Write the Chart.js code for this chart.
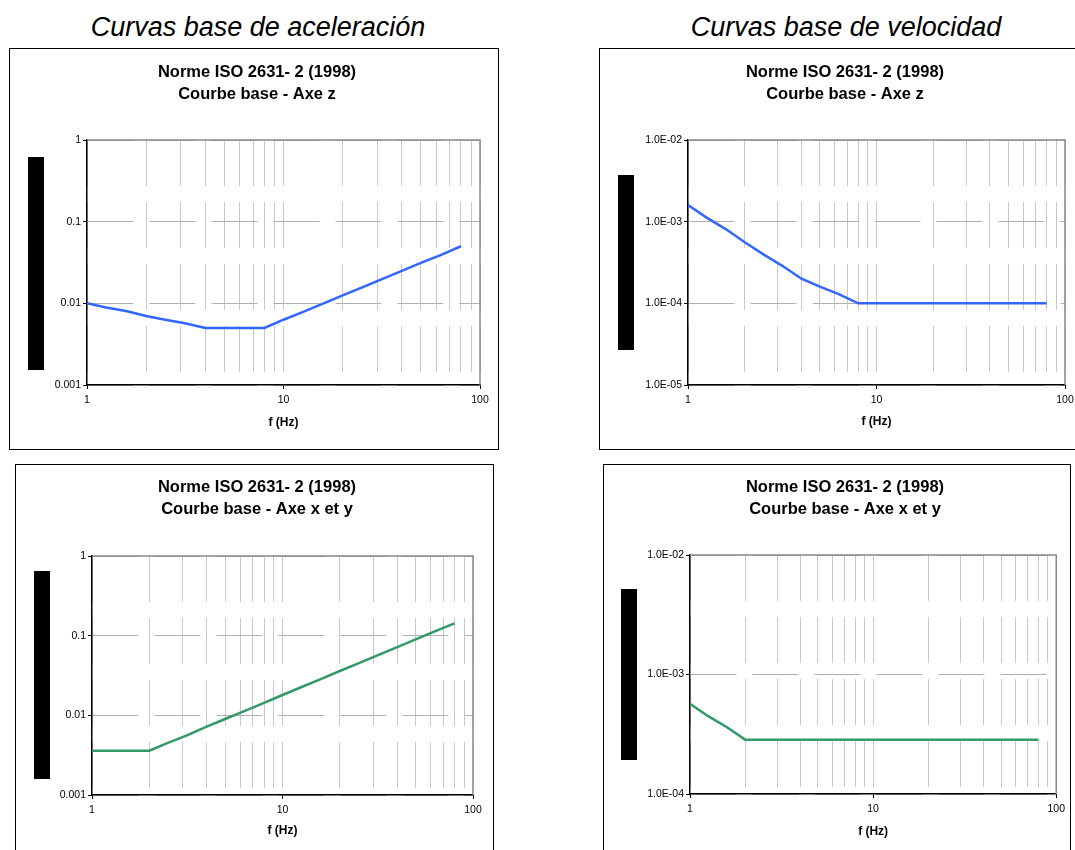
<!DOCTYPE html>
<html>
<head>
<meta charset="utf-8">
<script src="https://cdn.jsdelivr.net/npm/chart.js@4.4.1/dist/chart.umd.min.js"></script>
<style>
    body { margin: 0; background: #fff; width: 1075px; height: 850px; overflow: hidden; position: relative; font-family: Arial, "Liberation Sans", sans-serif; }
    .heading { position: absolute; top: 10px; font-style: italic; font-size: 27px; color: #000; text-align: center; width: 500px; line-height: 34px; }
    .panel { position: absolute; border: 1px solid #000; background: #fff; }
    .panel canvas { position: absolute; left: 0; top: 0; }
    .bar { position: absolute; background: #000; }
</style>
</head>
<body>
<div class="heading" style="left: 8px;">Curvas base de aceleración</div>
<div class="heading" style="left: 596px;">Curvas base de velocidad</div>

<div class="panel" style="left: 9px; top: 48px; width: 488px; height: 400px;"><canvas id="accZ" width="488" height="400"></canvas></div>
<div class="panel" style="left: 599px; top: 48px; width: 490px; height: 400px;"><canvas id="velZ" width="490" height="400"></canvas></div>
<div class="panel" style="left: 15px; top: 464px; width: 477px; height: 410px;"><canvas id="accXY" width="477" height="410"></canvas></div>
<div class="panel" style="left: 603px; top: 464px; width: 466px; height: 410px;"><canvas id="velXY" width="466" height="410"></canvas></div>

<div class="bar" style="left: 28px; top: 157px; width: 16px; height: 213px;"></div>
<div class="bar" style="left: 618px; top: 175px; width: 16px; height: 175px;"></div>
<div class="bar" style="left: 34px; top: 571px; width: 16px; height: 208px;"></div>
<div class="bar" style="left: 621px; top: 589px; width: 16px; height: 171px;"></div>

<script>
// third-octave centre frequencies (Hz)
const freqs = [1, 1.25, 1.6, 2, 2.5, 3.15, 4, 5, 6.3, 8, 10, 12.5, 16, 20, 25, 31.5, 40, 50, 63, 80];

// base curves
const accZ = [0.01, 0.0089, 0.008, 0.007, 0.0063, 0.0057, 0.005, 0.005, 0.005, 0.005,
              0.0063, 0.0078, 0.01, 0.0125, 0.0156, 0.0197, 0.025, 0.0313, 0.039, 0.05];
const accXY = [0.0036, 0.0036, 0.0036, 0.0036, 0.0045, 0.0056, 0.0072, 0.009, 0.0113, 0.0143,
               0.018, 0.0225, 0.0287, 0.036, 0.045, 0.0567, 0.072, 0.09, 0.113, 0.143];
const velZ = [0.0016, 0.00113, 0.0008, 0.00056, 0.0004, 0.00029, 0.0002, 0.00016, 0.00013, 0.0001,
              0.0001, 0.0001, 0.0001, 0.0001, 0.0001, 0.0001, 0.0001, 0.0001, 0.0001, 0.0001];
const velXY = [0.00057, 0.00045, 0.00036, 0.000285, 0.000285, 0.000285, 0.000285, 0.000285, 0.000285, 0.000285,
               0.000285, 0.000285, 0.000285, 0.000285, 0.000285, 0.000285, 0.000285, 0.000285, 0.000285, 0.000285];

const xTickValues = [1, 2, 3, 4, 5, 6, 7, 8, 9, 10, 20, 30, 40, 50, 60, 70, 80, 90, 100];
const xTickLabels = ['1', '', '', '', '', '', '', '', '', '10', '', '', '', '', '', '', '', '', '100'];

const yAccValues = [0.001, 0.01, 0.1, 1];
const yAccLabels = ['0.001', '0.01', '0.1', '1'];
const yVelZValues = [0.00001, 0.0001, 0.001, 0.01];
const yVelZLabels = ['1.0E-05', '1.0E-04', '1.0E-03', '1.0E-02'];
const yVelXYValues = [0.0001, 0.001, 0.01];
const yVelXYLabels = ['1.0E-04', '1.0E-03', '1.0E-02'];

const titleZ = ['Norme ISO 2631- 2 (1998)', 'Courbe base - Axe z'];
const titleXY = ['Norme ISO 2631- 2 (1998)', 'Courbe base - Axe x et y'];

const FONT = 'Arial, "Liberation Sans", sans-serif';

// gray frame on top and right of the plot area
const plotFrame = {
    id: 'plotFrame',
    beforeDatasetsDraw(chart) {
        const a = chart.chartArea, ctx = chart.ctx;
        ctx.save();
        ctx.strokeStyle = '#888';
        ctx.lineWidth = 1.5;
        ctx.beginPath();
        ctx.moveTo(a.left, a.top);
        ctx.lineTo(a.right, a.top);
        ctx.lineTo(a.right, a.bottom);
        ctx.stroke();
        ctx.restore();
    }
};

function makeChart(id, values, color, yValues, yLabels, title, box) {
    const canvas = document.getElementById(id);
    const ctx = canvas.getContext('2d');
    const padLeft = 2 * box.titleX - box.right;
    const xHeight = box.xTitle + 7;

    new Chart(ctx, {
        type: 'line',
        data: {
            datasets: [{
                data: freqs.map((f, i) => ({x: f, y: values[i]})),
                borderColor: color,
                borderWidth: 2.5,
                pointRadius: 0,
                tension: 0,
                fill: false
            }]
        },
        options: {
            responsive: false,
            animation: false,
            devicePixelRatio: 1,
            layout: {
                padding: {
                    left: padLeft,
                    right: canvas.width - box.right,
                    top: 0,
                    bottom: canvas.height - box.bottom - xHeight
                }
            },
            plugins: {
                legend: {display: false},
                tooltip: {enabled: false},
                title: {
                    display: true,
                    text: title,
                    color: '#000',
                    font: {family: FONT, size: 16.5, weight: 'bold', lineHeight: '22px'},
                    padding: {top: box.titleY - 11, bottom: box.top - box.titleY - 33}
                }
            },
            scales: {
                x: {
                    type: 'logarithmic',
                    min: 1,
                    max: 100,
                    afterBuildTicks: (scale) => {
                        scale.ticks = xTickValues.map(v => ({value: v}));
                    },
                    afterFit: (scale) => { scale.height = xHeight; },
                    ticks: {
                        autoSkip: false,
                        maxRotation: 0,
                        padding: 5,
                        color: '#000',
                        font: {family: FONT, size: 10.5},
                        callback: (value, index) => xTickLabels[index]
                    },
                    grid: {
                        color: '#c8c8c8',
                        lineWidth: 1,
                        tickLength: 4,
                        tickColor: (c) => xTickLabels[c.index] ? '#000' : 'rgba(0,0,0,0)'
                    },
                    border: {color: '#000', width: 1.5, dash: [46, 16]},
                    title: {
                        display: true,
                        text: 'f (Hz)',
                        color: '#000',
                        font: {family: FONT, size: 12, weight: 'bold'},
                        padding: {top: 0, bottom: 0}
                    }
                },
                y: {
                    type: 'logarithmic',
                    min: yValues[0],
                    max: yValues[yValues.length - 1],
                    afterBuildTicks: (scale) => {
                        scale.ticks = yValues.map(v => ({value: v}));
                    },
                    afterFit: (scale) => { scale.width = box.left - padLeft; },
                    ticks: {
                        autoSkip: false,
                        padding: 2,
                        color: '#000',
                        font: {family: FONT, size: 10.5},
                        callback: (value, index) => yLabels[index]
                    },
                    grid: {
                        color: '#b0b0b0',
                        lineWidth: 1,
                        tickLength: 4,
                        tickColor: '#000'
                    },
                    border: {color: '#000', width: 1.5, dash: [46, 16]}
                }
            }
        },
        plugins: [plotFrame]
    });
}

// plot area positions inside each canvas
makeChart('accZ', accZ, '#3366ff', yAccValues, yAccLabels, titleZ,
          {left: 77, top: 91, right: 470, bottom: 336, titleX: 247, titleY: 23, xTitle: 38});
makeChart('velZ', velZ, '#3366ff', yVelZValues, yVelZLabels, titleZ,
          {left: 88, top: 91, right: 465, bottom: 336, titleX: 245, titleY: 23, xTitle: 37});
makeChart('accXY', accXY, '#339966', yAccValues, yAccLabels, titleXY,
          {left: 76, top: 91, right: 457, bottom: 330, titleX: 241, titleY: 22, xTitle: 36});
makeChart('velXY', velXY, '#339966', yVelXYValues, yVelXYLabels, titleXY,
          {left: 86, top: 90, right: 458, bottom: 329, titleX: 241, titleY: 22, xTitle: 38});
</script>
</body>
</html>
